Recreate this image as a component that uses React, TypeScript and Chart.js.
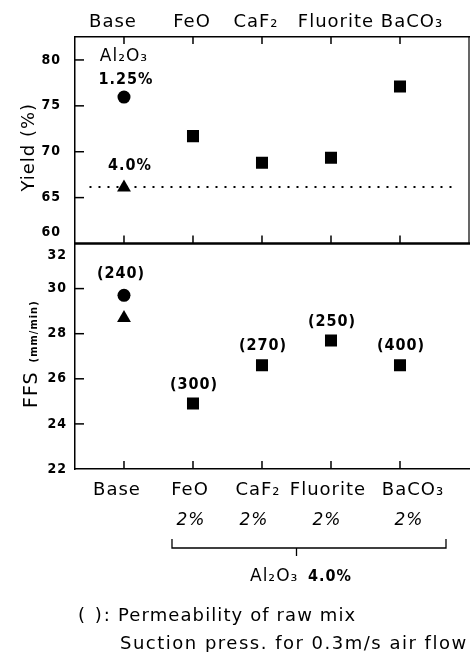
import React, { useEffect, useRef } from 'react';
import { Chart, registerables } from 'chart.js';

Chart.register(...registerables);

// ---- data ----
const categories = ['Base', 'FeO', 'CaF₂', 'Fluorite', 'BaCO₃'];
const additionLabels = ['', '2%', '2%', '2%', '2%'];
const yieldAl125 = [75.95];
const yieldAl40 = [66.1];
const yieldAdditives = [71.7, 68.8, 69.35, 77.1];
const yieldRefSpan = [-0.5, 4.75];
const yieldRefLevel = [66.15, 66.15];
const ffsAl125 = [29.7];
const ffsAl40 = [28.7];
const ffsAdditives = [24.9, 26.6, 27.7, 26.6];
const permeability = [240, 300, 270, 250, 400];
const yieldTicks = [60, 65, 70, 75, 80];
const ffsTicks = [22, 24, 26, 28, 30, 32];

const SANS = "'DejaVu Sans', sans-serif";
const COND = "'DejaVu Sans Condensed', 'DejaVu Sans', sans-serif";
const BLACK = '#000';

// label nudges (pixels) relative to the category position
const topLabelNudge = [-11, -1, -6, 5, 12];
const bottomLabelNudge = [-7, -3, -4, -3, 13];
const additionNudge = [0, -2, -8, -4, 9];

const annotPlugin = {
  id: 'annot',
  beforeDraw(chart: any) {
    chart.ctx.letterSpacing = '1px';
  },
  afterDraw(chart: any) {
    const { ctx, chartArea } = chart;
    const x = chart.scales.x;
    const yT = chart.scales.yT;
    const yB = chart.scales.yB;
    const line = (x1: number, y1: number, x2: number, y2: number) => {
      ctx.beginPath();
      ctx.moveTo(x1, y1);
      ctx.lineTo(x2, y2);
      ctx.stroke();
    };
    const text = (t: string, px: number, py: number, font: string, align: CanvasTextAlign = 'center') => {
      ctx.font = font;
      ctx.textAlign = align;
      ctx.textBaseline = 'middle';
      ctx.fillText(t, px, py);
    };
    ctx.save();
    ctx.letterSpacing = '1px';
    ctx.strokeStyle = BLACK;
    ctx.fillStyle = BLACK;
    ctx.lineCap = 'butt';

    // inward tick marks
    ctx.lineWidth = 1.5;
    const L = chartArea.left;
    yieldTicks.forEach((v) => {
      if (v === yT.min) return;
      const py = yT.getPixelForValue(v);
      line(L, py, L + 9, py);
    });
    ffsTicks.forEach((v) => {
      if (v === yB.min || v === yB.max) return;
      const py = yB.getPixelForValue(v);
      line(L, py, L + 9, py);
    });
    categories.forEach((_, i) => {
      const px = x.getPixelForValue(i);
      line(px, yT.top, px, yT.top + 7);
      line(px, yT.bottom, px, yT.bottom - 8);
      line(px, yB.bottom, px, yB.bottom - 8);
    });

    // panel divider and right border of the upper panel
    ctx.lineWidth = 2.5;
    line(L, yT.bottom, chartArea.right + 1, yT.bottom);
    ctx.lineWidth = 1.2;
    line(chartArea.right, yT.top, chartArea.right, yT.bottom);

    // category labels above and below the panels
    categories.forEach((c, i) => {
      const px = x.getPixelForValue(i);
      text(c, px + topLabelNudge[i], yT.top - 15, `18px ${SANS}`);
      text(c, px + bottomLabelNudge[i], chartArea.bottom + 21, `18px ${SANS}`);
    });

    // axis titles (rotated)
    ctx.save();
    ctx.translate(34, (yT.top + yT.bottom) / 2 + 7);
    ctx.rotate(-Math.PI / 2);
    ctx.font = `18px ${SANS}`;
    ctx.textAlign = 'center';
    ctx.textBaseline = 'alphabetic';
    ctx.fillText('Yield (%)', 0, 0);
    ctx.restore();

    ctx.save();
    ctx.translate(37, 408);
    ctx.rotate(-Math.PI / 2);
    ctx.textAlign = 'left';
    ctx.textBaseline = 'alphabetic';
    ctx.font = `19px ${SANS}`;
    ctx.fillText('FFS', 0, 0);
    const w = ctx.measureText('FFS ').width;
    ctx.font = `bold 11px ${COND}`;
    ctx.fillText('(mm/min)', w + 2, 0);
    ctx.restore();

    // annotations in the upper panel
    const bx = x.getPixelForValue(0);
    const cy = yT.getPixelForValue(yieldAl125[0]);
    text('Al₂O₃', bx, cy - 41, `17px ${SANS}`);
    text('1.25%', bx + 2, cy - 17, `bold 16px ${COND}`);
    const ty = yT.getPixelForValue(yieldAl40[0]);
    text('4.0%', bx + 6, ty - 22, `bold 16px ${COND}`);

    // permeability labels in the lower panel
    const ffsAll = [ffsAl125[0], ...ffsAdditives];
    permeability.forEach((p, i) => {
      const px = x.getPixelForValue(i);
      const py = yB.getPixelForValue(ffsAll[i]);
      text(`(${p})`, px + (i === 0 ? -3 : 1), py - (i === 0 ? 22 : 19), `bold 16px ${COND}`);
    });

    // addition amounts below the category labels
    additionLabels.forEach((t, i) => {
      if (!t) return;
      const px = x.getPixelForValue(i);
      text(t, px + additionNudge[i], chartArea.bottom + 52, `italic 17px ${SANS}`);
    });

    // bracket
    ctx.lineWidth = 1.3;
    const bl = x.getPixelForValue(1) - 21;
    const br = x.getPixelForValue(4) + 46;
    const by = chartArea.bottom + 79;
    ctx.beginPath();
    ctx.moveTo(bl, by - 9);
    ctx.lineTo(bl, by);
    ctx.lineTo(br, by);
    ctx.lineTo(br, by - 9);
    ctx.stroke();
    const bm = (x.getPixelForValue(2) + x.getPixelForValue(3)) / 2;
    line(bm, by, bm, by + 8);
    text('Al₂O₃', 250, chartArea.bottom + 108, `17px ${SANS}`, 'left');
    text('4.0%', 308, chartArea.bottom + 108, `bold 16px ${COND}`, 'left');

    // footnote
    ctx.letterSpacing = '2px';
    text('( ):', 78, 616, `18px ${SANS}`, 'left');
    ctx.letterSpacing = '1.1px';
    text('Permeability of raw mix', 118, 616, `18px ${SANS}`, 'left');
    ctx.letterSpacing = '1.5px';
    text('Suction press. for 0.3m/s air flow', 120, 644, `18px ${SANS}`, 'left');
    ctx.restore();
  },
};

export default function App() {
  const ref = useRef<HTMLCanvasElement | null>(null);
  useEffect(() => {
    if (!ref.current) return;
    const pt = (xs: number[], ys: number[]) => ys.map((y, i) => ({ x: xs[i], y }));
    const squareX = yieldAdditives.map((_, i) => i + 1);
    const base = { backgroundColor: BLACK, borderColor: BLACK, borderWidth: 0, xAxisID: 'x' };
    const tickFont = { family: COND, size: 14, weight: 'bold' as const, lineHeight: '11.5px' };
    const yTicksCommon = { autoSkip: false, color: BLACK, font: tickFont };
    const noPadY = (s: any) => {
      s.width = 75;
      s.paddingTop = 0;
      s.paddingBottom = 0;
    };
    const xCommon = {
      type: 'linear' as const,
      min: -0.71,
      max: 5.0,
      grid: { display: false, drawTicks: false },
      border: { display: true, color: BLACK, width: 1.5 },
      ticks: { display: false },
      afterBuildTicks: (s: any) => {
        s.ticks = categories.map((_, i) => ({ value: i }));
      },
    };
    const chart = new Chart(ref.current, {
      type: 'scatter',
      data: {
        datasets: [
          { ...base, yAxisID: 'yT', data: pt([0], yieldAl125), pointStyle: 'circle', pointRadius: 6.5 },
          { ...base, yAxisID: 'yT', data: pt([0], yieldAl40), pointStyle: 'triangle', pointRadius: 8 },
          { ...base, yAxisID: 'yT', data: pt(squareX, yieldAdditives), pointStyle: 'rect', pointRadius: 8.5 },
          {
            ...base,
            yAxisID: 'yT',
            data: pt(yieldRefSpan, yieldRefLevel),
            showLine: true,
            borderWidth: 2,
            borderDash: [2, 7],
            pointRadius: 0,
          },
          { ...base, yAxisID: 'yB', data: pt([0], ffsAl125), pointStyle: 'circle', pointRadius: 6.5 },
          { ...base, yAxisID: 'yB', data: pt([0], ffsAl40), pointStyle: 'triangle', pointRadius: 8 },
          { ...base, yAxisID: 'yB', data: pt(squareX, ffsAdditives), pointStyle: 'rect', pointRadius: 8.5 },
        ],
      },
      options: {
        responsive: false,
        animation: false,
        events: [],
        layout: { autoPadding: false, padding: { left: 0, right: 1, top: 0, bottom: 0 } },
        plugins: { legend: { display: false }, tooltip: { enabled: false } },
        scales: {
          yB: {
            type: 'linear',
            position: 'left',
            stack: 'v',
            stackWeight: 225.5,
            min: 22,
            max: 32,
            afterBuildTicks: (s: any) => {
              s.ticks = ffsTicks.map((v) => ({ value: v }));
            },
            ticks: {
              ...yTicksCommon,
              padding: 8,
              callback: (v: any) => (v === 32 ? ['', '', '32'] : String(v)),
            },
            grid: { display: false, drawTicks: false },
            border: { display: true, color: BLACK, width: 1.5 },
            afterFit: noPadY,
          },
          yT: {
            type: 'linear',
            position: 'left',
            stack: 'v',
            stackWeight: 206.5,
            min: 60,
            max: 82.5,
            afterBuildTicks: (s: any) => {
              s.ticks = yieldTicks.map((v) => ({ value: v }));
            },
            ticks: {
              ...yTicksCommon,
              padding: 14,
              callback: (v: any) => (v === 60 ? ['60', '', ''] : String(v)),
            },
            grid: { display: false, drawTicks: false },
            border: { display: true, color: BLACK, width: 1.5 },
            afterFit: noPadY,
          },
          x: {
            ...xCommon,
            position: 'bottom',
            afterFit: (s: any) => {
              s.height = 652 - 469;
              s.paddingLeft = 0;
              s.paddingRight = 0;
            },
          },
          xT: {
            ...xCommon,
            position: 'top',
            afterFit: (s: any) => {
              s.height = 37;
              s.paddingLeft = 0;
              s.paddingRight = 0;
            },
          },
        },
      },
      plugins: [annotPlugin],
    } as any);
    return () => chart.destroy();
  }, []);
  return (
    <div style={{ position: 'absolute', left: 0, top: 0, width: 470, height: 652, background: '#fff' }}>
      <canvas ref={ref} width={470} height={652} style={{ display: 'block' }} />
    </div>
  );
}
